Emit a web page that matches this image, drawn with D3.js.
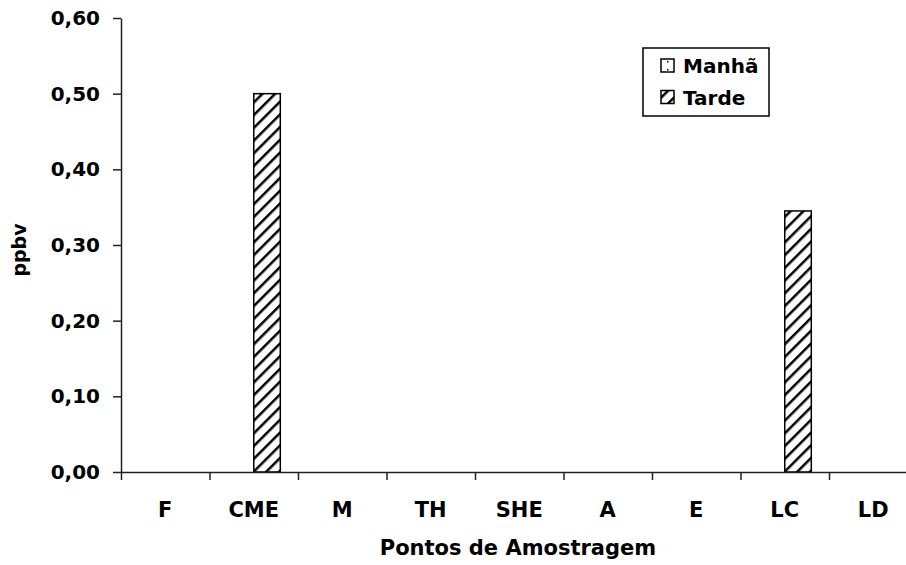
<!DOCTYPE html>
<html>
<head>
<meta charset="utf-8">
<script src="https://cdn.jsdelivr.net/npm/d3@7"></script>
<style>
  body { margin: 0; background: #fff; }
  svg text { font-family: "DejaVu Sans", sans-serif; font-weight: bold; fill: #000; }
</style>
</head>
<body>
<script>
// data
var categories = ["F", "CME", "M", "TH", "SHE", "A", "E", "LC", "LD"];
var seriesNames = ["Manhã", "Tarde"];
var manha = [0, 0, 0, 0, 0, 0, 0, 0, 0];
var tarde = [0, 0.50, 0, 0, 0, 0, 0, 0.345, 0];
var yTicks = [0, 0.1, 0.2, 0.3, 0.4, 0.5, 0.6];

var w = 906, h = 565;
var plotLeft = 121, plotTop = 18, plotBottom = 472;
var step = 88.5;

var svg = d3.select("body").append("svg")
  .attr("width", w)
  .attr("height", h);

// patterns
var defs = svg.append("defs");
var hatch = defs.append("pattern")
  .attr("id", "hatch")
  .attr("patternUnits", "userSpaceOnUse")
  .attr("width", 9).attr("height", 9)
  .attr("patternTransform", "rotate(45)");
hatch.append("rect").attr("width", 9).attr("height", 9).attr("fill", "#fff");
hatch.append("line")
  .attr("x1", 0).attr("y1", 0).attr("x2", 0).attr("y2", 9)
  .attr("stroke", "#000").attr("stroke-width", 5);

var dots = defs.append("pattern")
  .attr("id", "dots")
  .attr("patternUnits", "userSpaceOnUse")
  .attr("width", 8).attr("height", 8);
dots.append("rect").attr("width", 8).attr("height", 8).attr("fill", "#fff");
dots.append("rect").attr("x", 3).attr("y", 5).attr("width", 1.5).attr("height", 1.5).attr("fill", "#000");

var fills = ["url(#dots)", "url(#hatch)"];

var x = d3.scaleBand()
  .domain(categories)
  .range([plotLeft, plotLeft + step * categories.length])
  .paddingInner(0.4)
  .paddingOuter(0.2);

var xSub = d3.scaleBand()
  .domain(seriesNames)
  .range([0, x.bandwidth()]);

var y = d3.scaleLinear()
  .domain([0, 0.6])
  .range([plotBottom, plotTop]);

// bars
var rows = categories.map(function(c, i) {
  return { cat: c, values: [manha[i], tarde[i]] };
});

var groups = svg.selectAll(".grp")
  .data(rows)
  .enter().append("g")
  .attr("class", "grp")
  .attr("transform", function(d) { return "translate(" + x(d.cat) + ",0)"; });

groups.selectAll("rect")
  .data(function(d) { return d.values.map(function(v, j) { return { s: seriesNames[j], v: v, j: j }; }); })
  .enter().append("rect")
  .attr("x", function(d) { return xSub(d.s); })
  .attr("y", function(d) { return y(d.v); })
  .attr("width", xSub.bandwidth())
  .attr("height", function(d) { return y(0) - y(d.v); })
  .attr("fill", function(d) { return fills[d.j]; })
  .attr("stroke", "#000")
  .attr("stroke-width", 1.5);

// y axis
var yAxis = d3.axisLeft(y)
  .tickValues(yTicks)
  .tickSize(8)
  .tickSizeOuter(0)
  .tickPadding(13)
  .tickFormat(function(d) { return d3.format(".2f")(d).replace(".", ","); });

var gy = svg.append("g")
  .attr("transform", "translate(" + plotLeft + ",0)")
  .call(yAxis);
gy.selectAll("text").style("font-size", "20px");
gy.selectAll("line, path").attr("stroke", "#222").attr("stroke-width", 1.5);

// x axis: ticks between categories
var xEdge = d3.scaleLinear()
  .domain([0, categories.length])
  .range([plotLeft, plotLeft + step * categories.length]);

var gx = svg.append("g")
  .attr("transform", "translate(0," + plotBottom + ")")
  .call(d3.axisBottom(xEdge)
    .tickValues(d3.range(0, categories.length + 1))
    .tickSize(8)
    .tickSizeOuter(0)
    .tickFormat(""));
gx.selectAll("line, path").attr("stroke", "#222").attr("stroke-width", 1.5);

// category labels
svg.selectAll(".cat")
  .data(categories)
  .enter().append("text")
  .attr("class", "cat")
  .attr("x", function(d) { return x(d) + x.bandwidth() / 2; })
  .attr("y", 517)
  .attr("text-anchor", "middle")
  .style("font-size", "21px")
  .text(function(d) { return d; });

// axis titles
svg.append("text")
  .attr("x", 518)
  .attr("y", 555)
  .attr("text-anchor", "middle")
  .style("font-size", "21px")
  .text("Pontos de Amostragem");

svg.append("text")
  .attr("transform", "translate(26,250) rotate(-90)")
  .attr("text-anchor", "middle")
  .style("font-size", "19px")
  .text("ppbv");

// legend
var legend = svg.append("g");
legend.append("rect")
  .attr("x", 643).attr("y", 48)
  .attr("width", 126).attr("height", 68)
  .attr("fill", "#fff")
  .attr("stroke", "#000")
  .attr("stroke-width", 1.5);

var items = legend.selectAll(".legend")
  .data(seriesNames)
  .enter().append("g")
  .attr("class", "legend")
  .attr("transform", function(d, i) { return "translate(0," + i * 31.5 + ")"; });

items.append("rect")
  .attr("x", 661).attr("y", 59)
  .attr("width", 13).attr("height", 13)
  .attr("fill", function(d, i) { return fills[i]; })
  .attr("stroke", "#000")
  .attr("stroke-width", 1.5);

items.append("text")
  .attr("x", 683)
  .attr("y", 73)
  .style("font-size", "20px")
  .text(function(d) { return d; });
</script>
</body>
</html>
